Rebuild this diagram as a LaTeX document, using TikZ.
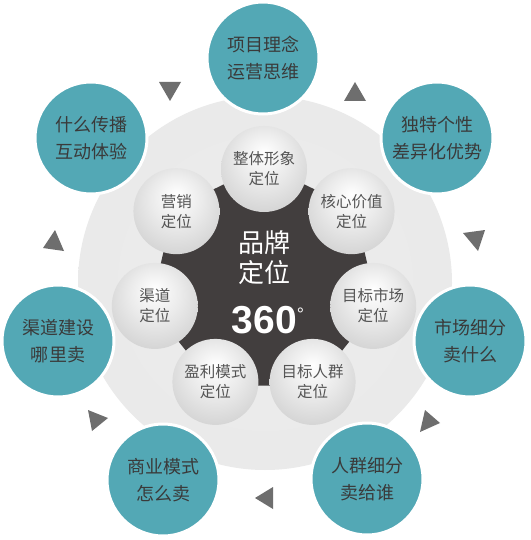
\documentclass[tikz,border=0pt]{standalone}
\usepackage{fontspec}
\setmainfont{Noto Sans CJK SC}
\newfontfamily\numfont{Liberation Sans}
\definecolor{tealc}{RGB}{83,168,181}
\definecolor{darkc}{RGB}{66,62,62}
\definecolor{outtxt}{RGB}{58,58,58}
\definecolor{sphtxt}{RGB}{85,85,85}
\definecolor{tric}{RGB}{110,110,110}
\pgfdeclareradialshading{sphereshade}{\pgfpoint{0bp}{10bp}}{color(0bp)=(white); color(15bp)=(white!92!black); color(35bp)=(white!80!black); color(50bp)=(white!68!black)}
\pgfdeclareradialshading{discshade}{\pgfpoint{0bp}{0bp}}{color(0bp)=(white!93!black); color(38bp)=(white!91!black); color(50bp)=(white!86!black)}
\begin{document}
\begin{tikzpicture}[x=1pt,y=-1pt,
  outer/.style={circle,fill=tealc,draw=white,line width=3pt,minimum size=112pt,inner sep=0pt,text=outtxt,align=center,font=\fontsize{18}{27}\selectfont},
  sph/.style={circle,shading=sphereshade,minimum size=86pt,inner sep=0pt,text=sphtxt,align=center,font=\fontsize{15.5}{20}\selectfont},
  tri/.style={fill=tric}]
\useasboundingbox (0,0) rectangle (530,540);
\fill[white] (0,0) rectangle (530,540);
% big disc
\node[circle,shading=discshade,minimum size=374pt,inner sep=0pt] (disc) at (265,283) {};
\begin{scope}[shift={(264,281)}]
  \fill[darkc] (-90:116) \foreach \k in {1,...,6}{ -- ({-90+\k*360/7}:116)} -- cycle;
  \node[sph] (s1) at (-90:112) {整体形象\\定位};
  \node[sph] (s2) at ({-90+360/7}:112) {核心价值\\定位};
  \node[sph] (s3) at ({-90+2*360/7}:112) {目标市场\\定位};
  \node[sph] (s4) at ({-90+3*360/7}:112) {目标人群\\定位};
  \node[sph] (s5) at ({-90+4*360/7}:112) {盈利模式\\定位};
  \node[sph] (s6) at ({-90+5*360/7}:112) {渠道\\定位};
  \node[sph] (s7) at ({-90+6*360/7}:112) {营销\\定位};
\end{scope}
\node[text=white,align=center,inner sep=0pt,font=\fontsize{26}{30}\selectfont] (brand) at (264,258) {品牌\\定位};
\node[text=white,inner sep=0pt,anchor=base,font=\numfont\bfseries\fontsize{39}{39}\selectfont] (num) at (268,333) {360\raisebox{13pt}{\fontsize{18}{18}\selectfont\mdseries °}};
% outer circles
\node[outer] (o1) at (263,58) {项目理念\\运营思维};
\node[outer] (o2) at (437,138) {独特个性\\差异化优势};
\node[outer] (o3) at (470,341) {市场细分\\卖什么};
\node[outer] (o4) at (367,479) {人群细分\\卖给谁};
\node[outer] (o5) at (163,480) {商业模式\\怎么卖};
\node[outer] (o6) at (58,341) {渠道建设\\哪里卖};
\node[outer] (o7) at (91,138) {什么传播\\互动体验};
% triangles
\fill[tri] (159,82) -- (181,82) -- (170,101) -- cycle;
\fill[tri] (355,82) -- (344,101) -- (366,101) -- cycle;
\fill[tri] (463,233) -- (485,230) -- (478,251) -- cycle;
\fill[tri] (55,230) -- (43,248) -- (64,251) -- cycle;
\fill[tri] (88,410) -- (108,418) -- (92,431) -- cycle;
\fill[tri] (273,487) -- (255,498) -- (273,509) -- cycle;
\fill[tri] (425,410) -- (440,423) -- (420,432) -- cycle;
\end{tikzpicture}
\end{document}
